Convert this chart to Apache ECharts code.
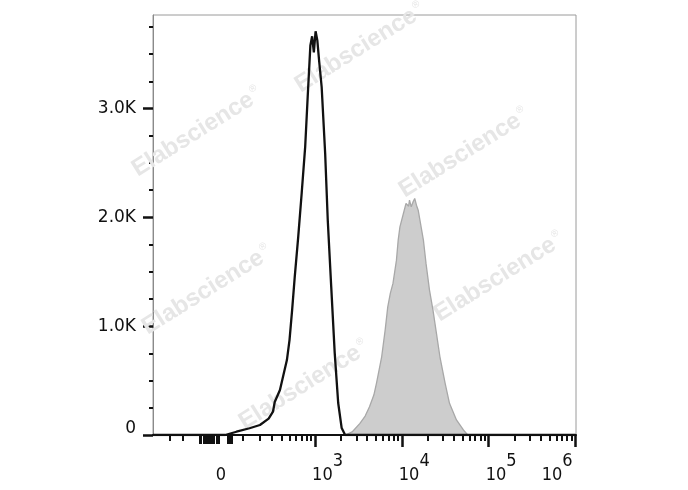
<!DOCTYPE html>
<html>
<head>
<meta charset="utf-8">
<script src="https://cdn.jsdelivr.net/npm/echarts@6/dist/echarts.min.js"></script>
<style>
html,body{margin:0;padding:0;background:#ffffff;}
#chart{width:688px;height:490px;}
</style>
</head>
<body>
<div id="chart"></div>
<script>
// ---- Data (x in biexponential display units = asinh(intensity/166)/ln10, y = count) ----
const isotypeX = [-0.78, 0.05, 0.18, 0.33, 0.45, 0.55, 0.60, 0.62, 0.68, 0.72, 0.76, 0.79, 0.82, 0.85, 0.89, 0.93, 0.97, 1.00, 1.03, 1.05, 1.07, 1.09, 1.11, 1.13, 1.16, 1.20, 1.23, 1.27, 1.31, 1.35, 1.39, 1.43, 4.08];
const isotypeY = [0, 0, 30, 62, 92, 150, 214, 303, 413, 551, 689, 872, 1148, 1451, 1818, 2222, 2645, 3122, 3581, 3664, 3517, 3710, 3627, 3444, 3196, 2590, 1974, 1359, 753, 294, 64, 0, 0];

const stainedX = [1.43, 1.51, 1.60, 1.66, 1.71, 1.76, 1.79, 1.82, 1.85, 1.89, 1.92, 1.95, 1.98, 2.02, 2.04, 2.06, 2.10, 2.13, 2.16, 2.17, 2.19, 2.21, 2.23, 2.25, 2.27, 2.29, 2.33, 2.36, 2.40, 2.44, 2.48, 2.52, 2.58, 2.63, 2.71, 2.79, 2.84];
const stainedY = [0, 28, 107, 174, 260, 367, 475, 597, 719, 964, 1178, 1304, 1393, 1607, 1791, 1913, 2036, 2128, 2103, 2158, 2097, 2140, 2174, 2112, 2066, 1974, 1791, 1577, 1332, 1148, 934, 719, 475, 291, 138, 46, 0];

// tick values (raw intensities / counts)
const xLabelValues = [0, 1e3, 1e4, 1e5, 1e6];
const xLabelTexts = ['0', '10^3', '10^4', '10^5', '10^6'];
const xMajorTickValues = [1e3, 1e4, 1e5, 1e6];
const xMinorTickValues = [-300, -200,
  100, 200, 300, 400, 500, 600, 700, 800, 900,
  2000, 3000, 4000, 5000, 6000, 7000, 8000, 9000,
  20000, 30000, 40000, 50000, 60000, 70000, 80000, 90000,
  200000, 300000, 400000, 500000, 600000, 700000, 800000, 900000];
const xNearZeroTickValues = [-100, -90, -80, -70, -60, -50, -40, -30, -20, -10, 30, 40, 50];
const yMajorTickValues = [0, 1000, 2000, 3000];
const yMinorTickValues = [250, 500, 750, 1250, 1500, 1750, 2250, 2500, 2750, 3250, 3500, 3750];
const watermarkText = 'Elabscience';

// ---- scale helpers ----
const COFACTOR = 166;
function biex(v) { return Math.asinh(v / COFACTOR) / Math.LN10; }
const X_MIN = -0.78, X_MAX = 4.085, Y_MAX = 3860;

const X_FONT = '"DejaVu Sans Condensed", "Liberation Sans Narrow", "DejaVu Sans", sans-serif';
const Y_FONT = '"DejaVu Sans", Verdana, sans-serif';
const INK = '#111111';

function zip(xs, ys) { return xs.map((x, i) => [x, ys[i]]); }

const xLabelPos = xLabelValues.map(biex);
function xLabelFormatter(val) {
  let idx = 0, best = Infinity;
  xLabelPos.forEach((p, i) => { const d = Math.abs(p - val); if (d < best) { best = d; idx = i; } });
  const t = xLabelTexts[idx];
  if (t.indexOf('^') < 0) return '{z|' + t + '}';
  const parts = t.split('^');
  const last = idx === xLabelTexts.length - 1;
  return last ? '{b|' + parts[0] + '}{sr|' + parts[1] + '}' : '{bl|' + parts[0] + '}{s|' + parts[1] + '}';
}
const xTxt = { fontSize: 18, fontFamily: X_FONT, color: INK, lineHeight: 20, verticalAlign: 'bottom' };

const chart = echarts.init(document.getElementById('chart'), null, { renderer: 'canvas' });
const wmStyle = (x, y) => ({
  type: 'text', x: x, y: y, rotation: 32 * Math.PI / 180, z: 1, silent: true,
  style: {
    text: '{a|' + watermarkText + '}{r|®}',
    align: 'center', verticalAlign: 'middle',
    rich: {
      a: { font: 'bold 24px "Liberation Sans", Arial, sans-serif', fill: '#e6e6e6' },
      r: { font: '10px "Liberation Sans", Arial, sans-serif', fill: '#e6e6e6', padding: [0, 0, 14, 2] }
    }
  }
});

chart.setOption({
  animation: false,
  backgroundColor: '#ffffff',
  grid: { left: 153, top: 15, width: 423, height: 420, show: true, borderColor: '#9a9a9a', borderWidth: 1, backgroundColor: 'transparent', containLabel: false, outerBoundsMode: 'none' },
  graphic: [
    wmStyle(360, 48), wmStyle(197, 132), wmStyle(464, 153),
    wmStyle(207, 290), wmStyle(499, 277), wmStyle(304, 385)
  ],
  xAxis: [
    {
      type: 'value', min: X_MIN, max: X_MAX, position: 'bottom',
      axisLine: { show: true, onZero: false, lineStyle: { color: INK, width: 2 } },
      axisTick: { show: true, customValues: xMajorTickValues.map(biex), length: 12, lineStyle: { color: INK, width: 2.5 } },
      axisLabel: { show: true, customValues: xLabelPos, margin: 29, formatter: xLabelFormatter,
        rich: {
          z: Object.assign({}, xTxt, { padding: [14, 0, 0, 0] }),
          b: Object.assign({}, xTxt),
          bl: Object.assign({}, xTxt, { padding: [0, 0, 0, 25] }),
          s: Object.assign({}, xTxt, { padding: [0, 0, 14, 0] }),
          sr: Object.assign({}, xTxt, { padding: [0, 37, 14, 0] })
        } },
      splitLine: { show: false }
    },
    {
      type: 'value', min: X_MIN, max: X_MAX, position: 'bottom',
      axisLine: { show: false, onZero: false },
      axisTick: { show: true, customValues: xMinorTickValues.map(biex), length: 6, lineStyle: { color: INK, width: 2 } },
      axisLabel: { show: false }, splitLine: { show: false }
    },
    {
      type: 'value', min: X_MIN, max: X_MAX, position: 'bottom',
      axisLine: { show: false, onZero: false },
      axisTick: { show: true, customValues: xNearZeroTickValues.map(biex), length: 9, lineStyle: { color: INK, width: 2 } },
      axisLabel: { show: false }, splitLine: { show: false }
    }
  ],
  yAxis: [
    {
      type: 'value', min: 0, max: Y_MAX, position: 'left',
      axisLine: { show: true, onZero: false, lineStyle: { color: '#8a8a8a', width: 1 } },
      axisTick: { show: true, customValues: yMajorTickValues, length: 10, lineStyle: { color: INK, width: 2.5 } },
      axisLabel: { show: true, customValues: yMajorTickValues, margin: 17, fontSize: 17, fontFamily: Y_FONT, color: INK,
        formatter: v => v === 0 ? '{z|0}' : (v / 1000).toFixed(1) + 'K',
        rich: { z: { fontSize: 17, fontFamily: Y_FONT, color: INK, padding: [0, 0, 12, 0] } } },
      splitLine: { show: false }
    },
    {
      type: 'value', min: 0, max: Y_MAX, position: 'left',
      axisLine: { show: false, onZero: false },
      axisTick: { show: true, customValues: yMinorTickValues, length: 4, lineStyle: { color: INK, width: 2 } },
      axisLabel: { show: false }, splitLine: { show: false }
    }
  ],
  series: [
    {
      name: 'Stained', type: 'line', xAxisIndex: 0, yAxisIndex: 0,
      data: zip(stainedX, stainedY), showSymbol: false, symbol: 'none',
      lineStyle: { color: '#a8a8a8', width: 1.3 },
      areaStyle: { color: '#cdcdcd', opacity: 1 },
      z: 2
    },
    {
      name: 'Isotype', type: 'line', xAxisIndex: 0, yAxisIndex: 0,
      data: zip(isotypeX, isotypeY), showSymbol: false, symbol: 'none',
      lineStyle: { color: INK, width: 2.3 },
      z: 3
    }
  ]
});
</script>
</body>
</html>
